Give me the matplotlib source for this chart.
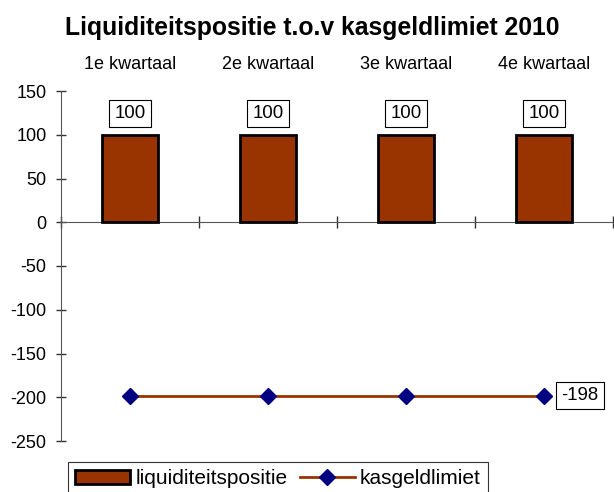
import numpy as np
import matplotlib
matplotlib.use('Agg')
import matplotlib.pyplot as plt

plt.rcParams['font.family'] = ['Liberation Sans', 'DejaVu Sans']
plt.rcParams['axes.unicode_minus'] = False

# data
categories = ['1e kwartaal', '2e kwartaal', '3e kwartaal', '4e kwartaal']
liquiditeitspositie = [100, 100, 100, 100]
kasgeldlimiet = [-198, -198, -198, -198]

bar_color = '#993300'
marker_color = '#000080'

fig = plt.figure(figsize=(6.14, 4.92), dpi=100)
ax = fig.add_axes([61/614, 1 - 441/492, 552/614, 350/492])

x = np.arange(len(categories))
bars = ax.bar(x, liquiditeitspositie, width=0.41, color=bar_color,
              edgecolor='black', linewidth=2, label='liquiditeitspositie',
              zorder=3)
line, = ax.plot(x, kasgeldlimiet, color=bar_color, linewidth=2,
                marker='D', markersize=8.5, markerfacecolor=marker_color,
                markeredgecolor=marker_color, label='kasgeldlimiet', zorder=4)

ax.set_xlim(-0.5, len(categories) - 0.5)
ax.set_ylim(-250, 150)
ax.set_yticks(np.arange(-250, 151, 50))
ax.tick_params(axis='y', labelsize=13, length=7, direction='inout', width=1,
               color='#333333', pad=7)

# x axis crosses at zero
ax.spines['bottom'].set_position(('data', 0))
ax.spines['top'].set_visible(False)
ax.spines['right'].set_visible(False)
ax.spines['left'].set_color('#555555')
ax.spines['bottom'].set_color('#555555')
ax.set_xticks(np.arange(-0.5, len(categories), 1.0))
ax.set_xticklabels([])
ax.tick_params(axis='x', direction='inout', length=8, width=1,
               color='#333333')

# category labels above the plot
for i, c in enumerate(categories):
    ax.text(i, 1.077, c, transform=ax.get_xaxis_transform(),
            ha='center', va='center', fontsize=13)

# data labels
box = dict(boxstyle='square,pad=0.28', facecolor='white', edgecolor='black',
           linewidth=0.8)
for i, v in enumerate(liquiditeitspositie):
    ax.annotate(str(v), (x[i], v), xytext=(0, 15.5),
                textcoords='offset points', ha='center', va='center',
                fontsize=13.4, bbox=box, zorder=5)
ax.annotate(str(kasgeldlimiet[-1]), (x[-1], kasgeldlimiet[-1]),
            xytext=(26, 0), textcoords='offset points', ha='center',
            va='center', fontsize=13.4, bbox=box, zorder=5)

fig.suptitle('Liquiditeitspositie t.o.v kasgeldlimiet 2010', x=312/614,
             y=1 - 28/492, va='center', fontsize=17.8, fontweight='bold')

leg = fig.legend(handles=[bars, line], loc='upper left',
                 bbox_to_anchor=(68/614, 1 - 462/492), ncol=2, fontsize=15,
                 frameon=True, fancybox=False, edgecolor='black',
                 handlelength=2.64, handleheight=0.63, columnspacing=0.58,
                 handletextpad=0.25, borderpad=0.35, borderaxespad=0)
leg.get_frame().set_linewidth(0.8)

fig.savefig('out.png', dpi=100)
